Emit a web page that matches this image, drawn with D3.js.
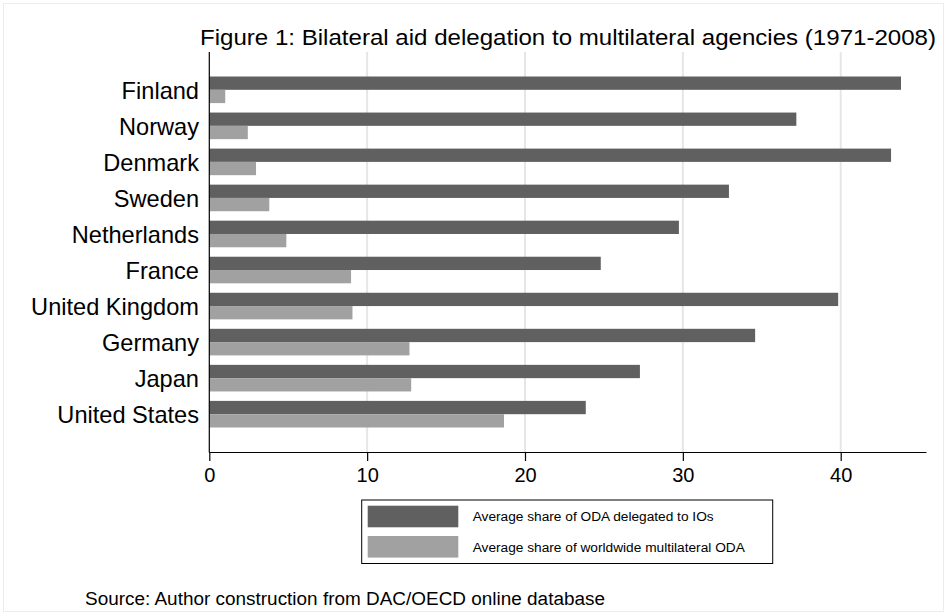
<!DOCTYPE html>
<html>
<head>
<meta charset="utf-8">
<script src="https://cdn.jsdelivr.net/npm/d3@7"></script>
<style>
  html, body { margin: 0; padding: 0; background: #fff; }
  svg { display: block; font-family: "Liberation Sans", Arial, sans-serif; }
</style>
</head>
<body>
<svg id="chart" width="948" height="616"></svg>
<script>
const countries = ["Finland", "Norway", "Denmark", "Sweden", "Netherlands", "France", "United Kingdom", "Germany", "Japan", "United States"];
const delegatedIOs = [43.82, 37.19, 43.19, 32.92, 29.75, 24.80, 39.84, 34.58, 27.28, 23.85];
const worldwideMultilateral = [1.01, 2.44, 2.96, 3.80, 4.88, 8.98, 9.07, 12.68, 12.79, 18.67];
const seriesNames = ["Average share of ODA delegated to IOs", "Average share of worldwide multilateral ODA"];
const seriesColors = ["#606060", "#a1a1a1"];
const xTicks = [0, 10, 20, 30, 40];
const titleText = "Figure 1: Bilateral aid delegation to multilateral agencies (1971-2008)";
const sourceText = "Source: Author construction from DAC/OECD online database";

const rows = countries.map((c, i) => ({ country: c, values: [delegatedIOs[i], worldwideMultilateral[i]] }));

const svg = d3.select("#chart");
const plot = { left: 209.3, right: 926, top: 52, bottom: 452 };

// faint outer frame
svg.append("rect").attr("x", 3.5).attr("y", 3.5).attr("width", 940).attr("height", 608)
  .attr("fill", "none").attr("stroke", "#ececec").attr("stroke-width", 1);

const x = d3.scaleLinear().domain([0, 45.4]).range([plot.left, plot.left + 45.4 * 15.785]);
const y = d3.scaleBand().domain(countries).range([plot.top, plot.bottom]).paddingInner(0.262).paddingOuter(0.68);
const ySub = d3.scaleBand().domain([0, 1]).range([0, y.bandwidth()]);

// gridlines
svg.append("g").selectAll("line").data(xTicks.filter(t => t > 0)).join("line")
  .attr("x1", d => x(d)).attr("x2", d => x(d))
  .attr("y1", plot.top).attr("y2", plot.bottom)
  .attr("stroke", "#e6e6e6").attr("stroke-width", 2);

// bars
const g = svg.append("g").selectAll("g").data(rows).join("g")
  .attr("transform", d => `translate(0,${y(d.country)})`);
g.selectAll("rect").data(d => d.values.map((v, i) => ({ v, i }))).join("rect")
  .attr("x", x(0))
  .attr("y", d => ySub(d.i))
  .attr("width", d => x(d.v) - x(0))
  .attr("height", ySub.bandwidth())
  .attr("fill", d => seriesColors[d.i]);

// y axis line
svg.append("line").attr("x1", plot.left).attr("x2", plot.left)
  .attr("y1", plot.top).attr("y2", plot.bottom + 0.5)
  .attr("stroke", "#000").attr("stroke-width", 1.2);

// category labels
svg.append("g").selectAll("text").data(countries).join("text")
  .attr("x", 199)
  .attr("y", d => y(d) + y.bandwidth() / 2 + 9)
  .attr("text-anchor", "end")
  .attr("font-size", 23.6)
  .attr("fill", "#000")
  .text(d => d);

// x axis
const xAxis = d3.axisBottom(x).tickValues(xTicks).tickSize(9).tickPadding(7).tickSizeOuter(0);
const ax = svg.append("g").attr("transform", `translate(0,${plot.bottom})`).call(xAxis);
ax.select(".domain").attr("stroke", "#000").attr("stroke-width", 1.2);
ax.selectAll(".tick line").attr("stroke", "#000").attr("stroke-width", 1.2);
ax.selectAll(".tick text").attr("font-size", 20).attr("font-family", "Liberation Sans, Arial, sans-serif").attr("fill", "#000");

// title
svg.append("text").attr("x", 200).attr("y", 45).attr("font-size", 22.5)
  .attr("textLength", 736).attr("lengthAdjust", "spacingAndGlyphs")
  .attr("fill", "#000").text(titleText);

// legend
const lg = svg.append("g");
lg.append("rect").attr("x", 361.7).attr("y", 500).attr("width", 411).attr("height", 63.5)
  .attr("fill", "#fff").attr("stroke", "#000").attr("stroke-width", 1);
const items = lg.selectAll("g.item").data(seriesNames).join("g").attr("class", "item")
  .attr("transform", (d, i) => `translate(0,${505.7 + i * 30.3})`);
items.append("rect").attr("x", 367.7).attr("y", 0).attr("width", 90.6).attr("height", 21.6)
  .attr("fill", (d, i) => seriesColors[i]);
items.append("text").attr("x", 472.7).attr("y", 15.5).attr("font-size", 13.7).attr("fill", "#000").text(d => d);

// source
svg.append("text").attr("x", 85).attr("y", 605).attr("font-size", 18)
  .attr("textLength", 520).attr("lengthAdjust", "spacingAndGlyphs")
  .attr("fill", "#000").text(sourceText);
</script>
</body>
</html>
